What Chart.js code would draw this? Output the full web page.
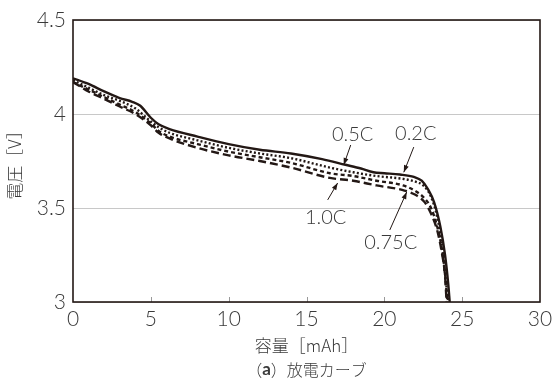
<!DOCTYPE html>
<html>
<head>
<meta charset="utf-8">
<script src="https://cdn.jsdelivr.net/npm/chart.js@4"></script>
<style>
  html, body { margin: 0; padding: 0; background: #fff; }
  #wrap { width: 552px; height: 382px; }
</style>
</head>
<body>
<div id="wrap"><canvas id="dischargeChart" width="552" height="382"></canvas></div>
<script>
// capacity [mAh] / voltage [V]
const xs02 = [0, 1, 2, 3, 3.8, 4.3, 5, 5.5, 6.2, 8, 10, 12, 14, 16, 17.5, 18.5, 19.3, 20, 21, 21.9, 22.4, 22.8, 23.2, 23.6, 23.9, 24.1, 24.2];
const v02  = [4.19, 4.16, 4.12, 4.085, 4.065, 4.045, 3.98, 3.945, 3.92, 3.88, 3.84, 3.81, 3.79, 3.76, 3.73, 3.71, 3.69, 3.685, 3.678, 3.665, 3.645, 3.60, 3.53, 3.40, 3.25, 3.10, 3.00];

const xs05 = [0, 1, 2, 3, 4, 5, 5.5, 6.2, 8, 10, 12, 14, 16.5, 18, 19.5, 21.2, 22, 22.5, 23, 23.4, 23.7, 23.9, 24.1];
const v05  = [4.18, 4.14, 4.10, 4.07, 4.03, 3.96, 3.93, 3.90, 3.86, 3.82, 3.79, 3.765, 3.715, 3.69, 3.67, 3.655, 3.64, 3.62, 3.56, 3.45, 3.30, 3.15, 3.00];

const xs075 = [0, 1, 2, 3, 4, 5, 5.5, 6.2, 8, 10, 12, 14, 16.5, 18, 19.5, 21.2, 22, 22.6, 23, 23.4, 23.7, 23.9, 24.05];
const v075  = [4.17, 4.13, 4.09, 4.05, 4.01, 3.95, 3.91, 3.88, 3.84, 3.80, 3.77, 3.74, 3.685, 3.67, 3.645, 3.62, 3.59, 3.55, 3.50, 3.40, 3.28, 3.15, 3.00];

const xs10 = [0, 1, 2, 3, 4, 5, 5.5, 6.2, 8, 10, 12, 14, 16.5, 18, 19.5, 21.2, 22, 22.6, 23, 23.4, 23.7, 23.9, 24.0];
const v10  = [4.17, 4.12, 4.08, 4.04, 4.00, 3.94, 3.90, 3.87, 3.82, 3.78, 3.75, 3.715, 3.66, 3.645, 3.62, 3.595, 3.57, 3.53, 3.47, 3.38, 3.26, 3.14, 3.00];

const xTicks = [0, 5, 10, 15, 20, 25, 30];
const yTicks = [3, 3.5, 4, 4.5];

// callout labels: text, text pos, leader line from -> to (data units)
const callouts = [
  { text: '0.5C',  tx: 17.96, ty: 3.89,  x1: 17.84, y1: 3.835, x2: 17.39, y2: 3.729 },
  { text: '0.2C',  tx: 22.02, ty: 3.894, x1: 21.89, y1: 3.824, x2: 21.25, y2: 3.69 },
  { text: '1.0C',  tx: 16.23, ty: 3.447, x1: 16.36, y1: 3.543, x2: 17.0,  y2: 3.633 },
  { text: '0.75C', tx: 20.41, ty: 3.314, x1: 20.35, y1: 3.383, x2: 21.44, y2: 3.585 }
];

const ink = '#231815';
const textGray = '#3a3a3a';
const numFont = "Lato, 'Liberation Sans', sans-serif";
const jpFont = "'Noto Sans CJK JP', sans-serif";

function pts(xs, ys) {
  return xs.map((x, i) => ({ x: x, y: ys[i] }));
}

const extras = {
  id: 'extras',
  afterDatasetsDraw(chart) {
    const ctx = chart.ctx;
    const xs = chart.scales.x, ys = chart.scales.y;
    const area = chart.chartArea;
    ctx.save();
    // inward x ticks
    ctx.strokeStyle = '#999';
    ctx.lineWidth = 1;
    xTicks.slice(1, -1).forEach(t => {
      const px = Math.round(xs.getPixelForValue(t)) + 0.5;
      ctx.beginPath();
      ctx.moveTo(px, area.bottom);
      ctx.lineTo(px, area.bottom - 5);
      ctx.stroke();
    });
    // frame
    ctx.strokeStyle = ink;
    ctx.lineWidth = 1.6;
    ctx.strokeRect(area.left, area.top, area.right - area.left, area.bottom - area.top);
    // callouts
    ctx.font = '300 20px ' + numFont;
    ctx.textAlign = 'center';
    ctx.textBaseline = 'middle';
    callouts.forEach(c => {
      const ax = xs.getPixelForValue(c.x1), ay = ys.getPixelForValue(c.y1);
      const bx = xs.getPixelForValue(c.x2), by = ys.getPixelForValue(c.y2);
      ctx.strokeStyle = ink;
      ctx.fillStyle = ink;
      ctx.lineWidth = 1;
      ctx.beginPath();
      ctx.moveTo(ax, ay);
      ctx.lineTo(bx, by);
      ctx.stroke();
      const ang = Math.atan2(by - ay, bx - ax);
      const len = 7, w = 2.5;
      ctx.beginPath();
      ctx.moveTo(bx, by);
      ctx.lineTo(bx - len * Math.cos(ang) + w * Math.sin(ang), by - len * Math.sin(ang) - w * Math.cos(ang));
      ctx.lineTo(bx - len * Math.cos(ang) - w * Math.sin(ang), by - len * Math.sin(ang) + w * Math.cos(ang));
      ctx.closePath();
      ctx.fill();
      ctx.fillStyle = textGray;
      ctx.fillText(c.text, xs.getPixelForValue(c.tx), ys.getPixelForValue(c.ty));
    });
    // caption
    const cx = (area.left + area.right) / 2;
    ctx.textAlign = 'left';
    ctx.fillStyle = textGray;
    const p1 = '（', p2 = '）放電カーブ';
    ctx.font = 'bold 17px ' + numFont;
    const wa = ctx.measureText('a').width;
    ctx.font = '300 16px ' + jpFont;
    const w1 = ctx.measureText(p1).width, w2 = ctx.measureText(p2).width;
    const sx = cx - (w1 + wa + w2) / 2;
    const cy = 370;
    ctx.fillText(p1, sx, cy);
    ctx.fillText(p2, sx + w1 + wa, cy);
    ctx.font = 'bold 17px ' + numFont;
    ctx.fillText('a', sx + w1, cy);
    ctx.restore();
  }
};

const lineBase = { borderColor: ink, backgroundColor: ink, borderWidth: 2.4, pointRadius: 0, fill: false, cubicInterpolationMode: 'monotone' };

new Chart(document.getElementById('dischargeChart'), {
  type: 'line',
  data: {
    datasets: [
      Object.assign({ label: '1.0C', data: pts(xs10, v10), borderDash: [8, 4] }, lineBase),
      Object.assign({ label: '0.75C', data: pts(xs075, v075), borderDash: [4, 3] }, lineBase),
      Object.assign({ label: '0.5C', data: pts(xs05, v05), borderDash: [2, 2.2] }, lineBase),
      Object.assign({ label: '0.2C', data: pts(xs02, v02) }, lineBase)
    ]
  },
  options: {
    responsive: false,
    animation: false,
    layout: { padding: { top: 20, right: 12, bottom: 0, left: 0 } },
    plugins: { legend: { display: false }, tooltip: { enabled: false } },
    scales: {
      x: {
        type: 'linear',
        min: 0, max: 30,
        afterBuildTicks: s => { s.ticks = xTicks.map(v => ({ value: v })); },
        afterFit: s => { s.height = 80; s.paddingLeft = 0; s.paddingRight = 0; },
        grid: { display: false, drawTicks: false },
        border: { display: false },
        ticks: { color: textGray, padding: 5, font: { size: 21, weight: '300', family: numFont }, maxRotation: 0, callback: v => String(v) },
        title: { display: true, text: '容量［mAh］', color: textGray, font: { size: 17, weight: '300', family: jpFont }, padding: { top: 0, bottom: 26 } }
      },
      y: {
        type: 'linear',
        min: 3, max: 4.5,
        afterBuildTicks: s => { s.ticks = yTicks.map(v => ({ value: v })); },
        afterFit: s => { s.width = 73; s.paddingTop = 0; s.paddingBottom = 0; },
        grid: { color: '#c8c8c8', lineWidth: 1, drawTicks: false },
        border: { display: false },
        ticks: { color: textGray, padding: 7, font: { size: 21, weight: '300', family: numFont }, callback: v => String(v) },
        title: { display: true, text: '電圧［V］', color: textGray, font: { size: 17, weight: '300', family: jpFont }, padding: { bottom: 0 } }
      }
    }
  },
  plugins: [extras]
});
</script>
</body>
</html>
